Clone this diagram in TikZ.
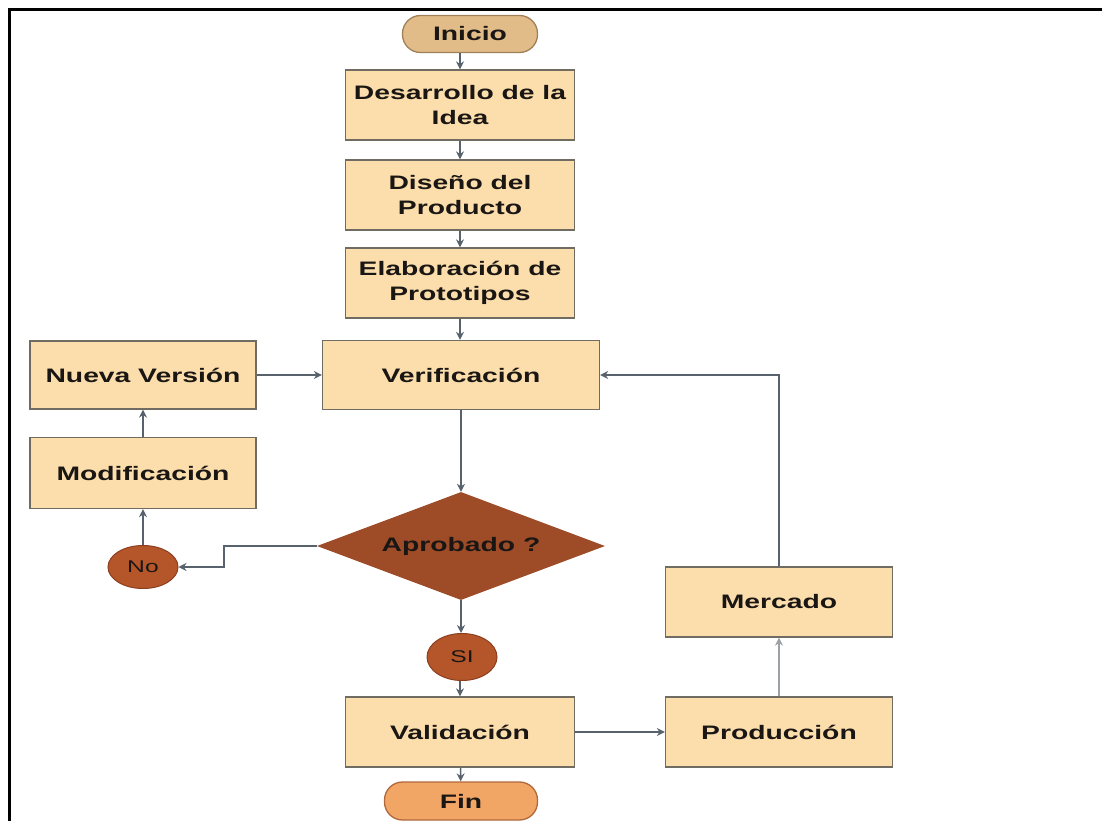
\documentclass[tikz,border=0pt]{standalone}
\usepackage{fontspec}
\setmainfont{Liberation Sans}[FakeStretch=1.45]
\usetikzlibrary{shapes.geometric,arrows.meta}
\definecolor{boxfill}{RGB}{252,222,172}
\definecolor{boxline}{RGB}{112,108,98}
\definecolor{startfill}{RGB}{226,188,136}
\definecolor{startline}{RGB}{160,128,88}
\definecolor{endfill}{RGB}{242,166,102}
\definecolor{endline}{RGB}{176,104,60}
\definecolor{decfill}{RGB}{158,76,40}
\definecolor{dotfill}{RGB}{180,86,42}
\definecolor{dotline}{RGB}{140,62,30}
\definecolor{wire}{RGB}{88,98,108}
\definecolor{txt}{RGB}{26,22,20}
\tikzset{
  stepbox/.style={draw=boxline, fill=boxfill, line width=1.3pt, text=txt,
    minimum width=229, minimum height=70, inner sep=0pt, align=center,
    font=\fontsize{19.5}{25}\selectfont\bfseries},
  terminal/.style={draw, line width=1.3pt, rounded corners=18pt, text=txt,
    minimum height=37, inner sep=0pt, font=\fontsize{19.5}{25}\selectfont\bfseries},
  decision/.style={diamond, fill=decfill, aspect=2.67, inner sep=0pt,
    minimum width=288, minimum height=108, text=txt,
    font=\fontsize{19.5}{25}\selectfont\bfseries},
  answer/.style={ellipse, draw=dotline, fill=dotfill, line width=1pt, inner sep=0pt,
    minimum width=70, text=txt, font=\fontsize{17}{20}\selectfont},
  conn/.style={draw=wire, line width=1.5pt, -{Stealth[length=8pt,width=8pt]}},
}
\begin{document}
\begin{tikzpicture}[x=1pt,y=-1pt]
\useasboundingbox (0,0) rectangle (1102,821);
\fill[white] (0,0) rectangle (1102,821);
% outer frame (top and left rules)
\draw[line width=3pt, black] (9.5,821) -- (9.5,9.5) -- (1102,9.5);

% main column
\node[terminal, draw=startline, fill=startfill, minimum width=135] (inicio) at (470,34) {Inicio};
\node[stepbox] (idea) at (460,105) {Desarrollo de la\\Idea};
\node[stepbox] (diseno) at (460,195) {Diseño del\\Producto};
\node[stepbox] (proto) at (460,283) {Elaboración de\\Prototipos};
\node[stepbox, minimum width=277, minimum height=69] (verif) at (461,375) {Verificación};
\node[decision] (aprob) at (461,546) {Aprobado ?};
\node[answer, minimum height=47] (si) at (462,657) {SI};
\node[stepbox] (valid) at (460,732) {Validación};
\node[terminal, draw=endline, fill=endfill, minimum width=153, minimum height=38] (fin) at (461,801) {Fin};

% rejection branch
\node[stepbox, minimum width=226, minimum height=68] (nueva) at (143,375) {Nueva Versión};
\node[stepbox, minimum width=226, minimum height=71] (modif) at (143,473) {Modificación};
\node[answer, minimum height=43] (no) at (143,567) {No};

% production loop
\node[stepbox, minimum width=227] (prod) at (779,732) {Producción};
\node[stepbox, minimum width=227] (merc) at (779,602) {Mercado};

% connectors
\draw[conn] (inicio.south -| idea.north) -- (idea.north);
\draw[conn] (idea) -- (diseno);
\draw[conn] (diseno) -- (proto);
\draw[conn] (proto.south) -- (proto.south |- verif.north);
\draw[conn] (nueva) -- (verif);
\draw[conn] (verif.south -| aprob.north) -- (aprob.north);
\draw[conn] (aprob.west) -- ++(-93,0) |- (no.east);
\draw[conn] (no) -- (modif);
\draw[conn] (modif) -- (nueva);
\draw[conn] (aprob.south) -- (aprob.south |- si.north);
\draw[conn] (si.south -| valid.north) -- (valid.north);
\draw[conn] (valid) -- (fin);
\draw[conn] (valid) -- (prod);
\draw[conn, draw=wire!60] (prod) -- (merc);
\draw[conn] (merc.north) |- (verif.east);
\end{tikzpicture}
\end{document}
